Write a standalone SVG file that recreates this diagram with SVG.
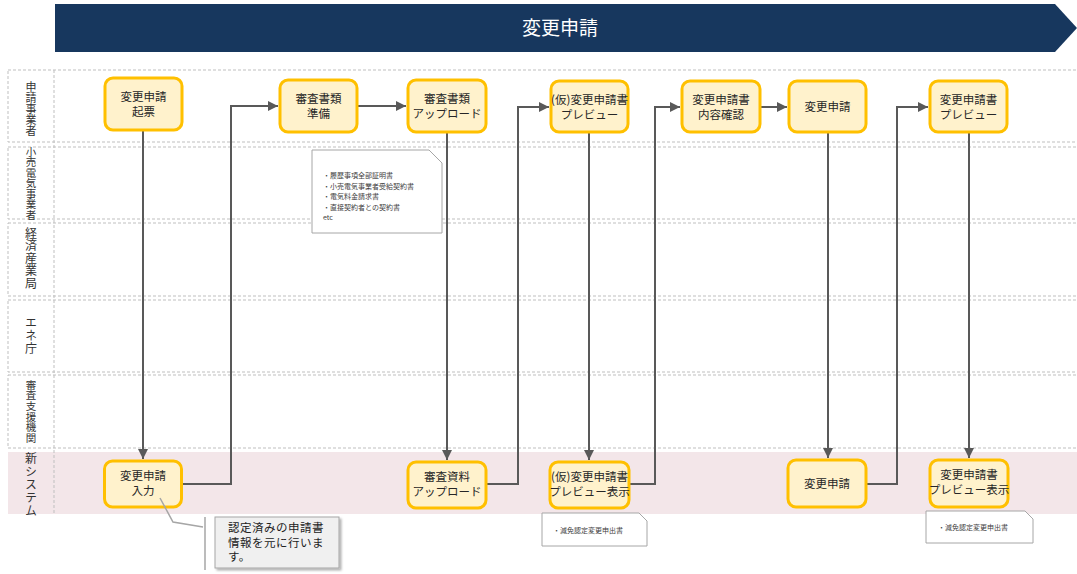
<svg xmlns="http://www.w3.org/2000/svg" width="1077" height="574" viewBox="0 0 1077 574">
<defs>
<style>
.lane{fill:none;stroke:#BFBFBF;stroke-width:1;stroke-dasharray:3 2}
.lbl{font-family:"Noto Sans CJK JP","Noto Sans",sans-serif;font-size:12px;fill:#333;writing-mode:vertical-rl;text-orientation:upright}
.node rect{fill:#FFF2CC;stroke:#FFC000;stroke-width:3}
.node text{font-family:"Noto Sans CJK JP","Noto Sans",sans-serif;font-size:11.5px;fill:#262626;text-anchor:middle}
.conn path{fill:none;stroke:#595959;stroke-width:2;marker-end:url(#arr)}
.note path{fill:#FFFFFF;stroke:#A6A6A6;stroke-width:1}
.note text{font-family:"Noto Sans CJK JP","Noto Sans",sans-serif;font-size:7px;fill:#404040}
</style>
<marker id="arr" viewBox="0 0 10 10" refX="10" refY="5" markerWidth="5" markerHeight="5" orient="auto" markerUnits="strokeWidth">
<path d="M0,0 L10,5 L0,10 Z" fill="#595959"/>
</marker>
<filter id="sh" x="-10%" y="-10%" width="130%" height="140%">
<feDropShadow dx="2" dy="2" stdDeviation="1" flood-color="#000" flood-opacity="0.3"/>
</filter>
</defs>
<rect width="1077" height="574" fill="#FFFFFF"/>
<g id="banner">
<polygon points="55,4 1055,4 1077,28 1055,52 55,52" fill="#17375E"/>
<text x="560" y="35" font-family="'Noto Sans CJK JP','Noto Sans',sans-serif" font-size="19" fill="#FFFFFF" text-anchor="middle">変更申請</text>
</g>
<g id="lanes">
<rect x="8" y="452" width="1069" height="62" fill="#F3E6E9"/>
<rect class="lane" x="8" y="70" width="1080" height="72"/>
<rect class="lane" x="8" y="147" width="1080" height="72"/>
<rect class="lane" x="8" y="223" width="1080" height="73"/>
<rect class="lane" x="8" y="300" width="1080" height="72"/>
<rect class="lane" x="8" y="375" width="1080" height="73"/>
<line class="lane" x1="54" y1="70" x2="54" y2="514"/>
<text class="lbl" x="31" y="81.5" style="font-size:11px">申請事業者</text>
<text class="lbl" x="31" y="146.5" style="font-size:10.5px">小売電気事業者</text>
<text class="lbl" x="31" y="227" style="letter-spacing:0.5px">経済産業局</text>
<text class="lbl" x="31" y="316" style="letter-spacing:1px">エネ庁</text>
<text class="lbl" x="31" y="379.5" style="font-size:10.5px;letter-spacing:0.1px">審査支援機関</text>
<text class="lbl" x="31" y="452" style="letter-spacing:1px">新システム</text>
</g>
<g id="connectors" class="conn">
<path d="M143,131 V459"/>
<path d="M182,484 H231 V106 H278"/>
<path d="M358,106 H406"/>
<path d="M447,132 V460"/>
<path d="M487,484 H518 V107 H549"/>
<path d="M589,133 V460"/>
<path d="M630,484 H655 V107 H680"/>
<path d="M761,107 H787"/>
<path d="M828,133 V458"/>
<path d="M867,484 H897 V107 H928"/>
<path d="M969,133 V458"/>
</g>
<g id="n1" class="node"><rect x="105" y="78" width="77" height="52" rx="8"/><text x="143.5" y="101">変更申請</text><text x="143.5" y="116">起票</text></g>
<g id="n2" class="node"><rect x="280" y="80" width="77" height="52" rx="8"/><text x="318.5" y="103">審査書類</text><text x="318.5" y="118">準備</text></g>
<g id="n3" class="node"><rect x="408" y="80" width="78" height="52" rx="8"/><text x="447" y="103">審査書類</text><text x="447" y="118">アップロード</text></g>
<g id="n4" class="node"><rect x="551" y="81" width="77" height="51" rx="8"/><text x="589.5" y="104">(仮)変更申請書</text><text x="589.5" y="119">プレビュー</text></g>
<g id="n5" class="node"><rect x="682" y="81" width="78" height="51" rx="8"/><text x="721" y="104">変更申請書</text><text x="721" y="119">内容確認</text></g>
<g id="n6" class="node"><rect x="789" y="81" width="77" height="51" rx="8"/><text x="827.5" y="111">変更申請</text></g>
<g id="n7" class="node"><rect x="930" y="81" width="77" height="51" rx="8"/><text x="968.5" y="104">変更申請書</text><text x="968.5" y="119">プレビュー</text></g>
<g id="n8" class="node"><rect x="104.5" y="461" width="77" height="46" rx="8"/><text x="143" y="480">変更申請</text><text x="143" y="495">入力</text></g>
<g id="n9" class="node"><rect x="408" y="462" width="78" height="46" rx="8"/><text x="447" y="481">審査資料</text><text x="447" y="496">アップロード</text></g>
<g id="n10" class="node"><rect x="550" y="462" width="79" height="46" rx="8"/><text x="589.5" y="481">(仮)変更申請書</text><text x="589.5" y="496">プレビュー表示</text></g>
<g id="n11" class="node"><rect x="788" y="460" width="78" height="47" rx="8"/><text x="827" y="488">変更申請</text></g>
<g id="n12" class="node"><rect x="930" y="460" width="78" height="47" rx="8"/><text x="969" y="479">変更申請書</text><text x="969" y="494">プレビュー表示</text></g>
<g id="note1" class="note">
<path d="M312,150 H429 L442,163 V233 H312 Z"/>
<text x="323" y="178">・履歴事項全部証明書</text>
<text x="323" y="188.5">・小売電気事業者受給契約書</text>
<text x="323" y="199">・電気料金請求書</text>
<text x="323" y="209.5">・直接契約者との契約書</text>
<text x="323" y="220">etc</text>
</g>
<g id="note2" class="note">
<path d="M542,513 H639 L647,521 V546 H542 Z"/>
<text x="553" y="533">・減免認定変更申出書</text>
</g>
<g id="note3" class="note">
<path d="M926,511 H1025 L1033,519 V543 H926 Z"/>
<text x="938" y="530">・減免認定変更申出書</text>
</g>
<g id="callout">
<polyline points="160,498 173,522 203,527" fill="none" stroke="#A6A6A6" stroke-width="1.5"/>
<line x1="205" y1="517" x2="205" y2="570" stroke="#A6A6A6" stroke-width="1.5"/>
<rect x="215" y="517" width="124" height="51" fill="#F0F0F0" stroke="#A6A6A6" stroke-width="1" filter="url(#sh)"/>
<text font-family="'Noto Sans CJK JP','Noto Sans',sans-serif" font-size="11.5" letter-spacing="0.5" fill="#222"><tspan x="228" y="532">認定済みの申請書</tspan><tspan x="228" y="546.5">情報を元に行いま</tspan><tspan x="228" y="561">す。</tspan></text>
</g>
</svg>
